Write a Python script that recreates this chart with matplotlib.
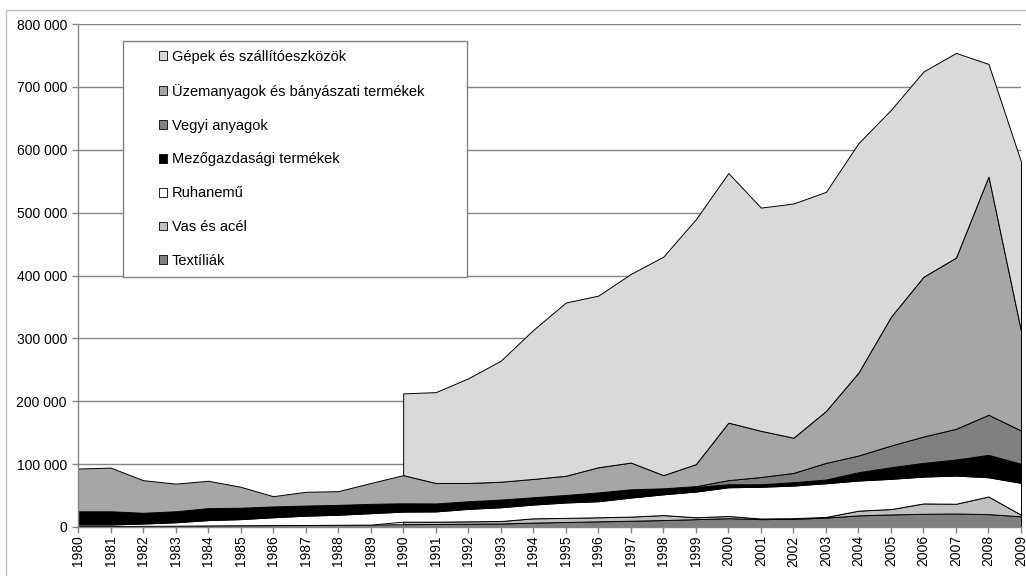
import numpy as np
import matplotlib
matplotlib.use("Agg")
import matplotlib.pyplot as plt
from matplotlib.patches import Patch, Rectangle
from matplotlib.ticker import FuncFormatter, MultipleLocator

plt.rcParams['font.family'] = ['Liberation Sans', 'DejaVu Sans']

N = None
years = list(range(1980, 2010))

textiliak = [1500, 1500, 1800, 2000, 2500, 2800, 3000, 3200, 3500, 3800,
             4500, 4800, 5200, 5600, 7000, 8000, 9000, 10000, 11000, 12500,
             14000, 12500, 13000, 15000, 18500, 20000, 21000, 21500, 20500, 17000]
vas_es_acel = [N, N, N, N, N, N, N, N, N, N,
               4000, 3700, 3800, 3900, 6800, 6500, 6500, 6500, 8000, 3000,
               3500, 1000, 1000, 1000, 7500, 8500, 16500, 15500, 28000, 2500]
ruhanemu = [2500, 2500, 3700, 5500, 8500, 9700, 12500, 14800, 16000, 18200,
            16000, 16300, 19800, 21900, 21900, 24500, 25500, 30300, 33000, 40900,
            45700, 50500, 51900, 53600, 47900, 48100, 42700, 44800, 30600, 50700]
mezogazdasagi = [21000, 21000, 17100, 17500, 19000, 18100, 17200, 16100, 15700, 14800,
                 13200, 12700, 12100, 12200, 11600, 12000, 14000, 13200, 9500, 7400,
                 4800, 4000, 5300, 5900, 13200, 18500, 21800, 25500, 35700, 30300]
vegyi = [0, 0, 0, 0, 0, 0, 0, 0, 0, 0,
         0, 0, 0, 0, 0, 0, 0, 0, 0, 1200,
         6500, 11500, 14800, 26500, 26600, 34500, 41900, 48900, 63700, 53000]
uzemanyagok = [68000, 69500, 51900, 44000, 43500, 33400, 16300, 21900, 21800, 33200,
               44800, 32500, 29100, 28400, 29200, 30500, 40000, 42500, 21000, 35000,
               91500, 73500, 56000, 82500, 131800, 204900, 254100, 272300, 379000, 158500]
gepek = [N, N, N, N, N, N, N, N, N, N,
         130000, 144500, 166500, 192500, 237000, 275500, 273000, 300000, 347500, 389500,
         397000, 355000, 372500, 348500, 365000, 329000, 326500, 325500, 179000, 269000]

series_names = ["Textíliák", "Vas és acél", "Ruhanemű", "Mezőgazdasági termékek",
                "Vegyi anyagok", "Üzemanyagok és bányászati termékek",
                "Gépek és szállítóeszközök"]
series_data = [textiliak, vas_es_acel, ruhanemu, mezogazdasagi, vegyi, uzemanyagok, gepek]
colors = ["#808080", "#C0C0C0", "#FFFFFF", "#000000", "#808080", "#A6A6A6", "#D9D9D9"]

W, H = 1026, 576
fig = plt.figure(figsize=(W / 100, H / 100), dpi=100)
fig.patch.set_facecolor("white")

# outer chart border
fig.add_artist(Rectangle((6 / W, -0.05), 1.2, (H - 10) / H + 0.05, transform=fig.transFigure,
                         fill=False, edgecolor="#BFBFBF", linewidth=1.0))

ax = fig.add_axes([78 / W, 1 - 527 / H, (1021 - 78) / W, (527 - 24) / H])

x = np.array(years, dtype=float)
base = np.zeros(len(years))
for name, vals, col in zip(series_names, series_data, colors):
    v = np.array([np.nan if a is None else a for a in vals], dtype=float)
    valid = ~np.isnan(v)
    top = base + np.nan_to_num(v)
    ax.fill_between(x[valid], base[valid], top[valid], facecolor=col,
                    edgecolor="black", linewidth=0.7, zorder=3)
    base = top

ax.set_xlim(1980, 2009)
ax.set_ylim(0, 800000)
ax.yaxis.set_major_locator(MultipleLocator(100000))
ax.yaxis.set_major_formatter(FuncFormatter(lambda v, p: f"{int(v):,}".replace(",", " ")))
ax.set_xticks(years)
ax.set_xticklabels([str(y) for y in years], rotation=90, va="top", ha="center")

ax.grid(axis="y", color="#868686", linewidth=1.0, zorder=0)
ax.set_axisbelow(True)
for s in ["top", "right"]:
    ax.spines[s].set_visible(False)
for s in ["left", "bottom"]:
    ax.spines[s].set_color("#868686")
    ax.spines[s].set_linewidth(1.0)
    ax.spines[s].set_zorder(5)
ax.tick_params(axis="both", colors="#868686", length=4, width=1.0, labelcolor="black",
               labelsize=10)
ax.tick_params(axis="x", pad=2)
ax.tick_params(axis="y", pad=4)

# legend frame + entries
fig.add_artist(Rectangle((123 / W, 1 - 277 / H), (467 - 123) / W, (277 - 41) / H,
                         transform=fig.transFigure, facecolor="white",
                         edgecolor="#808080", linewidth=1.0, zorder=10))
handles = [Patch(facecolor=c, edgecolor="black", linewidth=0.6) for c in colors]
leg = fig.legend(handles[::-1], series_names[::-1], loc="upper left",
                 bbox_to_anchor=(159 / W, 1 - 50 / H), frameon=False, fontsize=10.5,
                 handlelength=0.55, handleheight=0.55, handletextpad=0.35,
                 labelspacing=1.36, borderpad=0, borderaxespad=0)
leg.set_zorder(11)

fig.savefig("out.png", dpi=100)
